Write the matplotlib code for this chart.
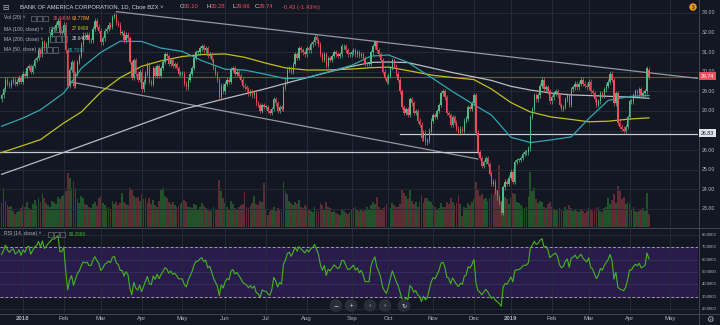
import numpy as np
import pandas as pd
import matplotlib
matplotlib.use("Agg")
import matplotlib.pyplot as plt
from matplotlib.lines import Line2D
from matplotlib.patches import Rectangle

plt.rcParams['font.family'] = ['Liberation Sans', 'DejaVu Sans']

# ---- data (BAC daily, Cboe BZX) ----
start_date = "2017-12-14"
nyse_holidays = ["2017-12-25", "2018-01-01", "2018-01-15", "2018-02-19", "2018-03-30",
                 "2018-05-28", "2018-07-04", "2018-09-03", "2018-11-22", "2018-12-05",
                 "2018-12-25", "2019-01-01", "2019-01-21", "2019-02-18", "2019-04-19",
                 "2019-05-27"]

# closes before the first visible bar, only used to warm up the RSI
warmup_closes = [27.0, 27.1, 27.2, 28.4, 28.6, 28.2, 27.8, 28.9, 28.3, 28.0, 28.3, 28.4,
                 28.3, 28.8, 28.6]

closes = [
    28.8, 29.1, 29.6, 29.4, 29.3, 29.5, 29.6, 29.4, 29.5, 29.7, 29.5,                       # Dec 17
    29.9, 29.8, 30.2, 30.3, 30.0, 30.3, 30.6, 30.7, 31.1, 30.9, 31.5, 31.2, 31.4, 31.7,
    31.9, 32.2, 32.2, 32.4, 32.6, 32.0, 32.0,                                               # Jan 18
    32.4, 31.1, 29.3, 30.1, 30.5, 29.3, 29.9, 30.5, 30.8, 31.4, 31.9, 31.8, 31.9, 31.6,
    31.6, 32.2, 32.6, 32.3, 32.1,                                                           # Feb
    31.5, 31.7, 32.1, 32.2, 32.4, 32.3, 32.8, 32.9, 32.5, 32.4, 32.0, 32.0, 31.6, 31.9,
    31.7, 30.5, 29.7, 30.6, 29.9, 29.6, 30.0,                                               # Mar
    29.1, 29.5, 29.9, 30.4, 29.5, 29.4, 30.2, 29.8, 30.3, 29.8, 30.2, 30.5, 30.9, 30.8,
    30.4, 30.6, 30.3, 30.4, 30.2, 29.9, 29.9,                                               # Apr
    29.9, 29.4, 29.2, 29.6, 29.9, 30.2, 30.7, 31.0, 31.0, 31.2, 31.3, 31.1, 31.2, 30.8,
    30.9, 30.6, 30.2, 29.9, 29.6, 28.7, 29.3, 29.0,                                         # May
    29.4, 29.6, 29.5, 30.1, 30.2, 29.9, 30.0, 29.8, 29.6, 29.3, 29.2, 29.1, 28.9, 29.0,
    28.8, 28.9, 28.4, 28.3, 28.0, 28.3, 28.2,                                               # Jun
    28.2, 28.0, 27.9, 28.1, 28.6, 28.4, 28.0, 28.2, 28.1, 29.2, 29.5, 30.1, 30.2, 30.0,
    30.4, 30.9, 30.7, 31.2, 31.1, 31.0, 30.9,                                               # Jul
    31.2, 31.1, 31.4, 31.5, 31.8, 31.6, 31.4, 30.9, 30.6, 30.9, 30.3, 30.7, 30.6, 30.8,
    31.0, 30.9, 30.8, 30.9, 31.3, 31.3, 31.1, 30.9, 30.9,                                   # Aug
    31.0, 31.1, 30.9, 31.0, 30.8, 30.9, 30.7, 30.4, 30.4, 30.4, 31.0, 31.3, 31.5, 31.1,
    30.9, 30.6, 30.0, 29.7, 29.5,                                                           # Sep
    29.8, 30.2, 30.6, 30.3, 29.9, 29.6, 29.0, 28.2, 27.9, 28.1, 27.8, 28.6, 28.4, 27.9,
    28.0, 27.5, 27.3, 26.6, 26.9, 26.4, 26.5, 27.0, 27.5,                                   # Oct
    27.8, 27.7, 28.0, 28.3, 28.9, 29.0, 28.7, 27.9, 27.8, 27.3, 27.7, 27.4, 27.1, 26.9,
    27.1, 27.0, 27.5, 27.6, 28.2, 28.1, 28.4,                                               # Nov
    28.8, 26.9, 25.9, 25.6, 25.2, 25.4, 25.6, 25.3, 24.8, 24.3, 24.4, 23.9, 23.6, 23.3,
    22.8, 24.1, 24.4, 24.3, 24.6,                                                           # Dec
    24.9, 24.4, 25.4, 25.5, 25.5, 25.6, 25.8, 25.9, 25.9, 26.1, 27.7, 28.1, 28.8, 28.6,
    28.8, 29.3, 29.6, 29.1, 29.2, 29.0, 28.5,                                               # Jan 19
    28.7, 28.9, 29.0, 28.8, 28.3, 28.1, 28.2, 28.6, 28.8, 28.3, 29.1, 29.2, 29.4, 29.2,
    29.4, 29.6, 29.4, 29.3, 29.2,                                                           # Feb
    29.5, 29.0, 28.9, 28.6, 28.3, 28.5, 28.9, 28.8, 29.1, 29.3, 29.5, 29.9, 29.6, 28.4,
    28.9, 27.4, 27.2, 27.1, 27.0, 27.2, 27.7,                                               # Mar
    28.5, 28.5, 28.8, 29.0, 28.9, 29.1, 28.8, 28.9, 29.0, 30.17, 29.74,                     # Apr
]

# volume, millions of shares
volumes = [
    72, 118, 80, 66, 60, 64, 48, 40, 46, 50, 58,
    68, 62, 75, 58, 55, 70, 82, 66, 90, 78, 105, 88, 72, 66, 60, 80, 75, 70, 92, 85, 96,
    98, 110, 165, 150, 120, 140, 118, 85, 72, 95, 88, 70, 66, 60, 58, 70, 78, 64, 90,
    95, 72, 66, 58, 62, 55, 80, 70, 75, 66, 72, 105, 78, 70, 68, 118, 112, 96, 88, 92, 80,
    100, 85, 90, 72, 88, 70, 82, 66, 62, 80, 115, 120, 95, 88, 75, 70, 78, 66, 60, 64, 70,
    75, 82, 78, 62, 60, 58, 70, 66, 55, 60, 72, 64, 58, 54, 50, 56, 60, 52, 55, 145, 110, 90,
    72, 60, 55, 80, 70, 58, 52, 60, 66, 70, 108, 62, 58, 65, 72, 95, 70, 66, 80, 75, 135,
    55, 38, 48, 52, 62, 50, 58, 52, 48, 138, 110, 100, 80, 72, 66, 78, 70, 82, 62, 58, 66,
    60, 52, 48, 45, 62, 50, 48, 72, 66, 55, 78, 62, 58, 45, 48, 42, 40, 38, 52, 48, 42, 40, 45,
    55, 58, 62, 52, 48, 56, 50, 52, 60, 55, 66, 78, 70, 92, 60, 55, 58, 62, 70,
    60, 58, 72, 66, 60, 62, 70, 112, 105, 95, 85, 115, 80, 70, 78, 62, 75, 98, 72, 88, 90, 80, 78,
    66, 62, 55, 58, 72, 60, 62, 78, 70, 90, 75, 68, 72, 98, 70, 35, 62, 58, 72, 66, 75,
    85, 138, 112, 95, 100, 85, 90, 80, 88, 105, 98, 110, 115, 190, 80, 105, 92, 85, 70,
    90, 105, 100, 78, 72, 66, 62, 58, 60, 92, 168, 110, 120, 85, 72, 80, 78, 60, 58, 70, 75,
    62, 52, 55, 50, 58, 52, 48, 60, 55, 66, 58, 50, 52, 48, 45, 52, 48, 42, 50,
    58, 52, 48, 55, 62, 60, 50, 45, 58, 62, 88, 70, 82, 100, 72, 125, 110, 85, 92, 70, 78,
    72, 55, 62, 50, 45, 48, 52, 58, 50, 105, 38.84,
]

# moving averages at sample dates
ma_dates = ["2017-12-14", "2018-01-02", "2018-01-16", "2018-02-01", "2018-02-14", "2018-03-01",
            "2018-03-15", "2018-04-02", "2018-04-16", "2018-05-01", "2018-05-15", "2018-06-01",
            "2018-06-15", "2018-07-02", "2018-07-17", "2018-08-01", "2018-08-15", "2018-09-04",
            "2018-09-18", "2018-10-01", "2018-10-15", "2018-11-01", "2018-11-15", "2018-12-03",
            "2018-12-17", "2019-01-02", "2019-01-16", "2019-02-01", "2019-02-15", "2019-03-01",
            "2019-03-15", "2019-04-01", "2019-04-15"]
ma50 = [27.22, 27.64, 28.06, 28.92, 30.18, 30.99, 31.56, 31.55, 31.21, 31.04, 30.57, 30.13,
        30.09, 29.87, 29.65, 29.70, 29.96, 30.33, 30.80, 30.86, 30.48, 29.65, 28.99, 28.32,
        27.79, 26.66, 26.39, 26.53, 26.68, 27.61, 28.54, 28.74, 28.79]
ma100 = [25.88, 26.24, 26.54, 27.39, 27.95, 28.96, 29.70, 30.28, 30.56, 30.78, 30.88, 30.91,
         30.74, 30.44, 30.20, 30.09, 30.09, 30.14, 30.21, 30.24, 30.06, 29.82, 29.71, 29.60,
         29.12, 28.43, 27.95, 27.69, 27.57, 27.45, 27.48, 27.59, 27.65]
ma200 = [24.77, 25.15, 25.47, 25.89, 26.21, 26.57, 26.93, 27.33, 27.69, 28.08, 28.33, 28.63,
         28.87, 29.14, 29.41, 29.70, 29.96, 30.27, 30.48, 30.50, 30.47, 30.18, 29.96, 29.74,
         29.56, 29.26, 29.07, 28.91, 28.82, 28.79, 28.75, 28.71, 28.65]

# drawings on the chart (date, price)
upper_trend = [("2018-03-13", 33.07), ("2019-04-15", 29.95)]
lower_trend = [("2018-02-06", 29.49), ("2018-12-06", 25.55)]
support_old = [("2017-12-14", 25.91), ("2018-12-06", 25.91)]
support_new = ("2018-10-09", 26.83)
last_price = 29.74

# ---- layout (pixels of the 720x325 screenshot) ----
W, H = 720, 325
BG = '#131722'
GRID = '#262a36'
TXT = '#b2b5be'
UP, DOWN = '#53b987', '#eb4d5c'


def fx(px):
    return px / W


def fy(py):
    return 1 - py / H


bar_px, x0_px = 1.944, 1.6
pane_right = 698
xlim = ((0 - x0_px) / bar_px, (pane_right - x0_px) / bar_px)
price_lim = (33 - (227 - 13) / 19.6, 33 + 13 / 19.6)
rsi_lim = (30 - (313 - 296.7) / 1.235, 70 + (247.3 - 228) / 1.235)

all_days = pd.bdate_range(start_date, "2019-05-20", freq="C", holidays=nyse_holidays)
dates = all_days[:len(closes)]
idx = np.arange(len(closes))


def day_pos(d):
    return all_days.get_indexer([pd.Timestamp(d)])[0]


c = np.array(closes)
full = np.array(warmup_closes + closes)
o = full[len(warmup_closes) - 1:-1]
o[-1] = 30.10
hi = np.maximum(o, c) + 0.12
lo = np.minimum(o, c) - 0.12
up = c >= o
col = np.where(up, UP, DOWN)

# RSI(14), Wilder smoothing
delta = pd.Series(full).diff().fillna(0)
gain = delta.clip(lower=0).ewm(alpha=1 / 14, adjust=False).mean()
loss = (-delta.clip(upper=0)).ewm(alpha=1 / 14, adjust=False).mean()
rsi = (100 - 100 / (1 + gain / loss)).to_numpy()[len(warmup_closes):]

fig = plt.figure(figsize=(W / 100, H / 100), dpi=100, facecolor=BG)

# month ticks
months = pd.Series(all_days).groupby([all_days.year, all_days.month]).first()
month_pos = [day_pos(d) for d in months if d > all_days[0]]
month_lab = [str(d.year) if d.month == 1 else d.strftime("%b") for d in months if d > all_days[0]]

# volume pane (below price)
ax_vol = fig.add_axes([0, fy(227), fx(pane_right), 227 / H])
ax_vol.set_facecolor(BG)
ax_vol.bar(idx, volumes, width=0.92, color=np.where(up, '#22522a', '#5e2c35'), linewidth=0)
ax_vol.set_xlim(xlim)
ax_vol.set_ylim(0, 227 * 3.06)
ax_vol.axis('off')

ax = fig.add_axes([0, fy(227), fx(pane_right), 227 / H])
ax.patch.set_visible(False)
ax.set_xlim(xlim)
ax.set_ylim(price_lim)
for p in range(23, 34):
    ax.axhline(p, color=GRID, lw=0.7, zorder=0)
for m in month_pos:
    ax.axvline(m, color=GRID, lw=0.7, zorder=0)

# drawings
ax.axhline(last_price, color='#a8363f', lw=0.8, zorder=1)
(d1, p1), (d2, p2) = upper_trend
x1, x2 = day_pos(d1), day_pos(d2)
slope = (p2 - p1) / (x2 - x1)
ax.plot([x1, xlim[1]], [p1, p1 + slope * (xlim[1] - x1)], color='#9598a1', lw=0.9, zorder=2)
(d1, p1), (d2, p2) = lower_trend
ax.plot([day_pos(d1), day_pos(d2)], [p1, p2], color='#9598a1', lw=0.9, zorder=2)
(d1, p1), (d2, p2) = support_old
ax.plot([xlim[0], day_pos(d2)], [p1, p2], color='#c8cad0', lw=0.9, zorder=2)
ax.plot([day_pos(support_new[0]), xlim[1]], [support_new[1]] * 2, color='#c8cad0', lw=0.9, zorder=2)

# moving averages
ma_x = [day_pos(d) for d in ma_dates]
ax.plot(ma_x, ma200, color='#b9bcc4', lw=0.9, zorder=3)
ax.plot(ma_x, ma100, color='#c3bf1c', lw=0.9, zorder=3)
ax.plot(ma_x, ma50, color='#2fa6b4', lw=0.9, zorder=3)

# candles
ax.vlines(idx, lo, hi, colors=col, lw=0.5, zorder=4)
ax.bar(idx, np.maximum(np.abs(c - o), 0.04), bottom=np.minimum(o, c), width=0.7,
       color=col, linewidth=0, zorder=5)
ax.axis('off')

# RSI pane
ax_r = fig.add_axes([0, fy(313), fx(pane_right), (313 - 228) / H])
ax_r.set_facecolor(BG)
ax_r.set_xlim(xlim)
ax_r.set_ylim(rsi_lim)
ax_r.axhspan(30, 70, color='#291c4b', zorder=0)
for v in (20, 40, 50, 60, 80):
    ax_r.axhline(v, color='#33305a' if 30 < v < 70 else GRID, lw=0.7, zorder=1)
for m in month_pos:
    ax_r.axvline(m, color=GRID, lw=0.7, zorder=1)
for v in (30, 70):
    ax_r.axhline(v, color='#9a9aa8', lw=0.7, ls=(0, (3, 2)), zorder=2)
ax_r.plot(idx, rsi, color='#45b51f', lw=0.8, zorder=3)
ax_r.set_xticks(month_pos)
ax_r.set_xticklabels(month_lab)
for t in ax_r.get_xticklabels():
    if t.get_text().isdigit():
        t.set_fontweight('bold')
        t.set_color('#d1d4dc')
ax_r.tick_params(axis='x', length=0, pad=2.5, labelsize=4.3, labelcolor=TXT)
ax_r.set_yticks([])
for s in ax_r.spines.values():
    s.set_visible(False)

# separators
for y in (227.5, 313.5):
    fig.add_artist(Line2D([0, 1], [fy(y), fy(y)], color='#434651', lw=0.7))
fig.add_artist(Line2D([fx(698.5), fx(698.5)], [0, 1], color='#434651', lw=0.7))

# right scale labels
for p in range(23, 34):
    if p == 27:
        continue
    fig.text(fx(702), fy(13 + (33 - p) * 19.6), f"{p:.2f}", color=TXT, fontsize=3.8, va='center')
for v in (20, 30, 40, 50, 60, 70, 80):
    fig.text(fx(702), fy(296.7 - (v - 30) * 1.235), f"{v:.4f}", color=TXT, fontsize=3.1, va='center')
fig.text(fx(701), fy(76.4), "29.74", color='white', fontsize=3.8, va='center',
         bbox=dict(boxstyle='square,pad=0.3', fc=DOWN, ec='none'))
fig.text(fx(701), fy(133.4), "26.83", color='#131722', fontsize=3.8, va='center',
         bbox=dict(boxstyle='square,pad=0.3', fc='#e0e3eb', ec='none'))

# header
fig.text(fx(2), fy(7), "\u229f", color=TXT, fontsize=5.5, va='center', family=['DejaVu Sans'])
fig.text(fx(20), fy(7), "BANK OF AMERICA CORPORATION, 1D, Cboe BZX \u02c5", color='#d1d4dc',
         fontsize=4.2, va='center')
for x, lab, val in [(180, "O", "30.10"), (207, "H", "30.28"), (232, "L", "29.66"), (255, "C", "29.74")]:
    fig.text(fx(x), fy(7), lab, color='#d1d4dc', fontsize=4.2, va='center')
    fig.text(fx(x + 3.5), fy(7), val, color=DOWN, fontsize=4.2, va='center')
fig.text(fx(282), fy(7), "-0.43 (-1.43%)", color=DOWN, fontsize=4.2, va='center')


def boxes(x, y):
    for k in range(3):
        fig.add_artist(Rectangle((fx(x + k * 6), fy(y + 2.5)), fx(5), 5 / H, fill=False,
                                 ec='#6a6d78', lw=0.5))


legend = [(18, "Vol (20) \u02c5", 31, [("38.840M", DOWN, 53), ("63.770M", '#ff9f43', 72)]),
          (29, "MA (100, close) \u02c5", 49, [("27.6489", '#c3bf1c', 72)]),
          (39, "MA (200, close) \u02c5", 50, [("28.6468", '#c9ccd3', 72)]),
          (50, "MA (50, close) \u02c5", 41, [("28.7914", '#2fa6b4', 68)]),
          (234, "RSI (14, close) \u02c5", 48, [("60.2669", '#45b51f', 69)])]
for y, name, bx, vals in legend:
    fig.text(fx(4), fy(y), name, color=TXT, fontsize=3.6, va='center')
    boxes(bx, y)
    for v, vc, vx in vals:
        fig.text(fx(vx), fy(y), v, color=vc, fontsize=3.4, va='center')

# toolbar buttons
for x, s in [(336, "\u2212"), (351, "+"), (370, "\u2039"), (385, "\u203a"), (404, "\u21bb")]:
    fig.text(fx(x), fy(305.5), s, color='#d1d4dc', fontsize=4.5, ha='center', va='center',
             family=['DejaVu Sans'],
             bbox=dict(boxstyle='circle,pad=0.6', fc='#2a2e39', ec='none'))

fig.text(fx(693), fy(7), "$", color='#131722', fontsize=3.5, ha='center', va='center',
         bbox=dict(boxstyle='circle,pad=0.25', fc='#f39c12', ec='none'))
fig.text(fx(710), fy(319), "\u2699", color=TXT, fontsize=6, ha='center', va='center',
         family=['DejaVu Sans'])

fig.savefig("out.png", dpi=100, facecolor=BG)
